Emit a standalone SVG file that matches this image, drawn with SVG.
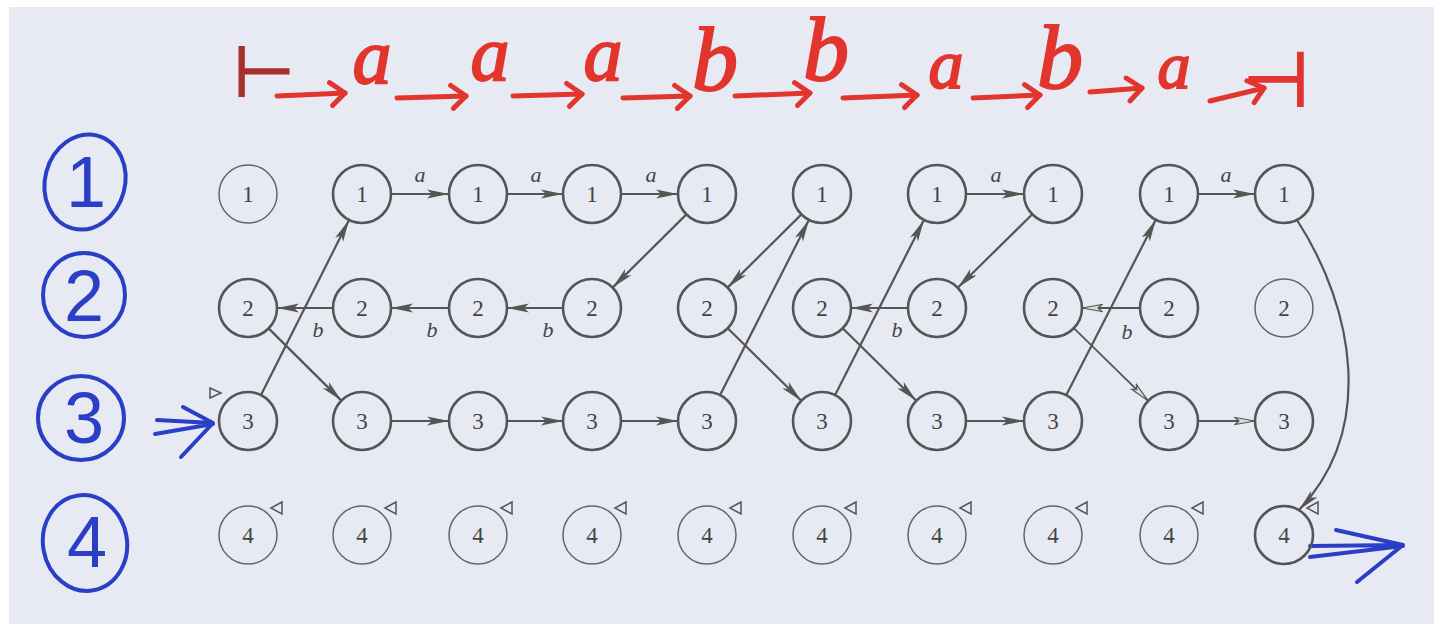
<svg xmlns="http://www.w3.org/2000/svg" width="1441" height="633" viewBox="0 0 1441 633">
<style>
.nd{fill:none;stroke:#555;stroke-width:2.6}
.nt{fill:none;stroke:#666;stroke-width:1.5}
.num{font-family:"Liberation Serif",serif;font-size:23px;fill:#444;text-anchor:middle}
.el{font-family:"Liberation Serif",serif;font-style:italic;font-size:22px;fill:#444;text-anchor:middle}
.e{fill:none;stroke:#555;stroke-width:2.2;marker-end:url(#ah)}
.eo{fill:none;stroke:#555;stroke-width:1.8;marker-end:url(#aho)}
.tri{fill:none;stroke:#555;stroke-width:1.5}
.red{font-family:"Liberation Serif",serif;font-style:italic;fill:#e2352e;stroke:#e2352e;stroke-width:2;text-anchor:middle}
.ra{fill:none;stroke:#e2352e;stroke-width:5;stroke-linecap:round;marker-end:url(#rah)}
.bl{fill:none;stroke:#2a3ec6;stroke-width:4;stroke-linecap:round;stroke-linejoin:round}
.bn{font-family:"Liberation Sans",sans-serif;font-size:72px;fill:#2a3ec6;text-anchor:middle}
</style>
<defs>
<marker id="ah" markerUnits="userSpaceOnUse" markerWidth="24" markerHeight="12" refX="22" refY="6" orient="auto"><path d="M0,1.5 L22,6 L0,10.5 L5,6 z" fill="#555"/></marker>
<marker id="aho" markerUnits="userSpaceOnUse" markerWidth="24" markerHeight="12" refX="21" refY="6" orient="auto"><path d="M1,2.5 L21,6 L1,9.5 L5,6 z" fill="#ddd" stroke="#555" stroke-width="1.2"/></marker>
<marker id="rah" markerUnits="userSpaceOnUse" markerWidth="30" markerHeight="30" refX="0" refY="0" orient="auto" overflow="visible"><path d="M-15,-11 L0,0 L-13,12" fill="none" stroke="#e2352e" stroke-width="5" stroke-linecap="round" stroke-linejoin="round"/></marker>
</defs>
<rect x="0" y="0" width="1441" height="633" fill="#ffffff"/>
<rect x="9" y="7" width="1425" height="617" fill="#e8eaf3"/>

<!-- red input word -->
<g id="input-word">
<text x="264" y="96" font-family="DejaVu Sans,sans-serif" font-size="70" fill="#a8302a" stroke="#a8302a" stroke-width="2" text-anchor="middle">⊢</text>
<path class="ra" d="M277,96 L345,93"/>
<text class="red" x="372" y="83" font-size="78">a</text>
<path class="ra" d="M397,98 L466,96"/>
<text class="red" x="490" y="80" font-size="78">a</text>
<path class="ra" d="M513,96 L582,94"/>
<text class="red" x="603" y="80" font-size="78">a</text>
<path class="ra" d="M623,98 L690,96"/>
<text class="red" x="715" y="90" font-size="92">b</text>
<path class="ra" d="M735,96 L810,93"/>
<text class="red" x="826" y="80" font-size="92">b</text>
<path class="ra" d="M843,98 L917,95"/>
<text class="red" x="946" y="88" font-size="70">a</text>
<path class="ra" d="M973,98 L1040,95"/>
<text class="red" x="1060" y="88" font-size="92">b</text>
<path class="ra" d="M1090,92 L1142,88"/>
<text class="red" x="1174" y="88" font-size="66">a</text>
<path class="ra" d="M1210,101 L1264,88"/>
<text x="1276" y="106" font-family="DejaVu Sans,sans-serif" font-size="76" fill="#e2352e" stroke="#e2352e" stroke-width="2" text-anchor="middle">⊣</text>
</g>

<!-- blue row labels -->
<g id="row-labels">
<ellipse class="bl" cx="85" cy="182" rx="40" ry="48" transform="rotate(15 85 182)"/>
<text class="bn" x="86" y="207">1</text>
<ellipse class="bl" cx="84" cy="295" rx="41" ry="42"/>
<text class="bn" x="84" y="321">2</text>
<ellipse class="bl" cx="81" cy="418" rx="43" ry="42"/>
<text class="bn" x="84" y="443">3</text>
<ellipse class="bl" cx="85" cy="543" rx="42" ry="48" transform="rotate(-10 85 543)"/>
<text class="bn" x="87" y="567">4</text>
</g>

<!-- connectors -->
<g id="connectors">
<path class="e" d="M391,194 L449,194"/>
<path class="e" d="M507,194 L563,194"/>
<path class="e" d="M621,194 L678,194"/>
<path class="e" d="M966,194 L1024,194"/>
<path class="e" d="M1198,194 L1255,194"/>
<path class="e" d="M333,308 L277,308"/>
<path class="e" d="M449,308 L391,308"/>
<path class="e" d="M563,308 L507,308"/>
<path class="e" d="M908,308 L851,308"/>
<path class="eo" d="M1140,308 L1082,308"/>
<path class="e" d="M391,421 L449,421"/>
<path class="e" d="M507,421 L563,421"/>
<path class="e" d="M621,421 L678,421"/>
<path class="e" d="M966,421 L1024,421"/>
<path class="eo" d="M1198,421 L1255,421"/>
<path class="e" d="M261,395 L349,220"/>
<path class="e" d="M268.6,328.4 L341.4,400.6"/>
<path class="e" d="M686.4,214.4 L612.6,287.6"/>
<path class="e" d="M801.4,214.4 L727.6,287.6"/>
<path class="e" d="M720.1,395.1 L808.9,219.9"/>
<path class="e" d="M727.7,328.3 L801.3,400.7"/>
<path class="e" d="M835.1,395.1 L923.9,219.9"/>
<path class="e" d="M842.7,328.3 L916.3,400.7"/>
<path class="e" d="M1032.3,214.3 L957.7,287.7"/>
<path class="e" d="M1066.2,395.2 L1155.8,219.8"/>
<path class="eo" d="M1073.8,328.2 L1148.2,400.8"/>
<path class="e" d="M1297,220 C1355,310 1375,430 1299,510"/>
<text class="el" x="420" y="182">a</text>
<text class="el" x="536" y="182">a</text>
<text class="el" x="651" y="182">a</text>
<text class="el" x="996" y="182">a</text>
<text class="el" x="1226" y="182">a</text>
<text class="el" x="318" y="337">b</text>
<text class="el" x="432" y="337">b</text>
<text class="el" x="548" y="337">b</text>
<text class="el" x="897" y="337">b</text>
<text class="el" x="1127" y="339">b</text>
<!-- blue in/out arrows -->
<path class="bl" d="M157,420 L213,423 M155,434 L213,424 M183,407 L213,423 L181,457"/>
<path class="bl" d="M1310,546 L1403,545 M1310,557 L1403,546 M1336,530 L1403,545 L1357,582"/>
</g>

<!-- nodes -->
<g id="n1-0"><circle class="nt" cx="248" cy="194" r="29"/><text class="num" x="248" y="202">1</text></g>
<g id="n1-1"><circle class="nd" cx="362" cy="194" r="29"/><text class="num" x="362" y="202">1</text></g>
<g id="n1-2"><circle class="nd" cx="478" cy="194" r="29"/><text class="num" x="478" y="202">1</text></g>
<g id="n1-3"><circle class="nd" cx="592" cy="194" r="29"/><text class="num" x="592" y="202">1</text></g>
<g id="n1-4"><circle class="nd" cx="707" cy="194" r="29"/><text class="num" x="707" y="202">1</text></g>
<g id="n1-5"><circle class="nd" cx="822" cy="194" r="29"/><text class="num" x="822" y="202">1</text></g>
<g id="n1-6"><circle class="nd" cx="937" cy="194" r="29"/><text class="num" x="937" y="202">1</text></g>
<g id="n1-7"><circle class="nd" cx="1053" cy="194" r="29"/><text class="num" x="1053" y="202">1</text></g>
<g id="n1-8"><circle class="nd" cx="1169" cy="194" r="29"/><text class="num" x="1169" y="202">1</text></g>
<g id="n1-9"><circle class="nd" cx="1284" cy="194" r="29"/><text class="num" x="1284" y="202">1</text></g>

<g id="n2-0"><circle class="nd" cx="248" cy="308" r="29"/><text class="num" x="248" y="316">2</text></g>
<g id="n2-1"><circle class="nd" cx="362" cy="308" r="29"/><text class="num" x="362" y="316">2</text></g>
<g id="n2-2"><circle class="nd" cx="478" cy="308" r="29"/><text class="num" x="478" y="316">2</text></g>
<g id="n2-3"><circle class="nd" cx="592" cy="308" r="29"/><text class="num" x="592" y="316">2</text></g>
<g id="n2-4"><circle class="nd" cx="707" cy="308" r="29"/><text class="num" x="707" y="316">2</text></g>
<g id="n2-5"><circle class="nd" cx="822" cy="308" r="29"/><text class="num" x="822" y="316">2</text></g>
<g id="n2-6"><circle class="nd" cx="937" cy="308" r="29"/><text class="num" x="937" y="316">2</text></g>
<g id="n2-7"><circle class="nd" cx="1053" cy="308" r="29"/><text class="num" x="1053" y="316">2</text></g>
<g id="n2-8"><circle class="nd" cx="1169" cy="308" r="29"/><text class="num" x="1169" y="316">2</text></g>
<g id="n2-9"><circle class="nt" cx="1284" cy="308" r="29"/><text class="num" x="1284" y="316">2</text></g>

<g id="n3-0"><circle class="nd" cx="248" cy="421" r="29"/><text class="num" x="248" y="429">3</text><path class="tri" d="M210,388 L221,393 L210,398 z"/></g>
<g id="n3-1"><circle class="nd" cx="362" cy="421" r="29"/><text class="num" x="362" y="429">3</text></g>
<g id="n3-2"><circle class="nd" cx="478" cy="421" r="29"/><text class="num" x="478" y="429">3</text></g>
<g id="n3-3"><circle class="nd" cx="592" cy="421" r="29"/><text class="num" x="592" y="429">3</text></g>
<g id="n3-4"><circle class="nd" cx="707" cy="421" r="29"/><text class="num" x="707" y="429">3</text></g>
<g id="n3-5"><circle class="nd" cx="822" cy="421" r="29"/><text class="num" x="822" y="429">3</text></g>
<g id="n3-6"><circle class="nd" cx="937" cy="421" r="29"/><text class="num" x="937" y="429">3</text></g>
<g id="n3-7"><circle class="nd" cx="1053" cy="421" r="29"/><text class="num" x="1053" y="429">3</text></g>
<g id="n3-8"><circle class="nd" cx="1169" cy="421" r="29"/><text class="num" x="1169" y="429">3</text></g>
<g id="n3-9"><circle class="nd" cx="1284" cy="421" r="29"/><text class="num" x="1284" y="429">3</text></g>

<g id="n4-0"><circle class="nt" cx="248" cy="535" r="29"/><text class="num" x="248" y="543">4</text><path class="tri" d="M282,502 L271,508 L282,514 z"/></g>
<g id="n4-1"><circle class="nt" cx="362" cy="535" r="29"/><text class="num" x="362" y="543">4</text><path class="tri" d="M396,502 L385,508 L396,514 z"/></g>
<g id="n4-2"><circle class="nt" cx="478" cy="535" r="29"/><text class="num" x="478" y="543">4</text><path class="tri" d="M512,502 L501,508 L512,514 z"/></g>
<g id="n4-3"><circle class="nt" cx="592" cy="535" r="29"/><text class="num" x="592" y="543">4</text><path class="tri" d="M626,502 L615,508 L626,514 z"/></g>
<g id="n4-4"><circle class="nt" cx="707" cy="535" r="29"/><text class="num" x="707" y="543">4</text><path class="tri" d="M741,502 L730,508 L741,514 z"/></g>
<g id="n4-5"><circle class="nt" cx="822" cy="535" r="29"/><text class="num" x="822" y="543">4</text><path class="tri" d="M856,502 L845,508 L856,514 z"/></g>
<g id="n4-6"><circle class="nt" cx="937" cy="535" r="29"/><text class="num" x="937" y="543">4</text><path class="tri" d="M971,502 L960,508 L971,514 z"/></g>
<g id="n4-7"><circle class="nt" cx="1053" cy="535" r="29"/><text class="num" x="1053" y="543">4</text><path class="tri" d="M1087,502 L1076,508 L1087,514 z"/></g>
<g id="n4-8"><circle class="nt" cx="1169" cy="535" r="29"/><text class="num" x="1169" y="543">4</text><path class="tri" d="M1203,502 L1192,508 L1203,514 z"/></g>
<g id="n4-9"><circle class="nd" cx="1284" cy="535" r="29"/><text class="num" x="1284" y="543">4</text><path class="tri" d="M1318,502 L1307,508 L1318,514 z"/></g>
</svg>
